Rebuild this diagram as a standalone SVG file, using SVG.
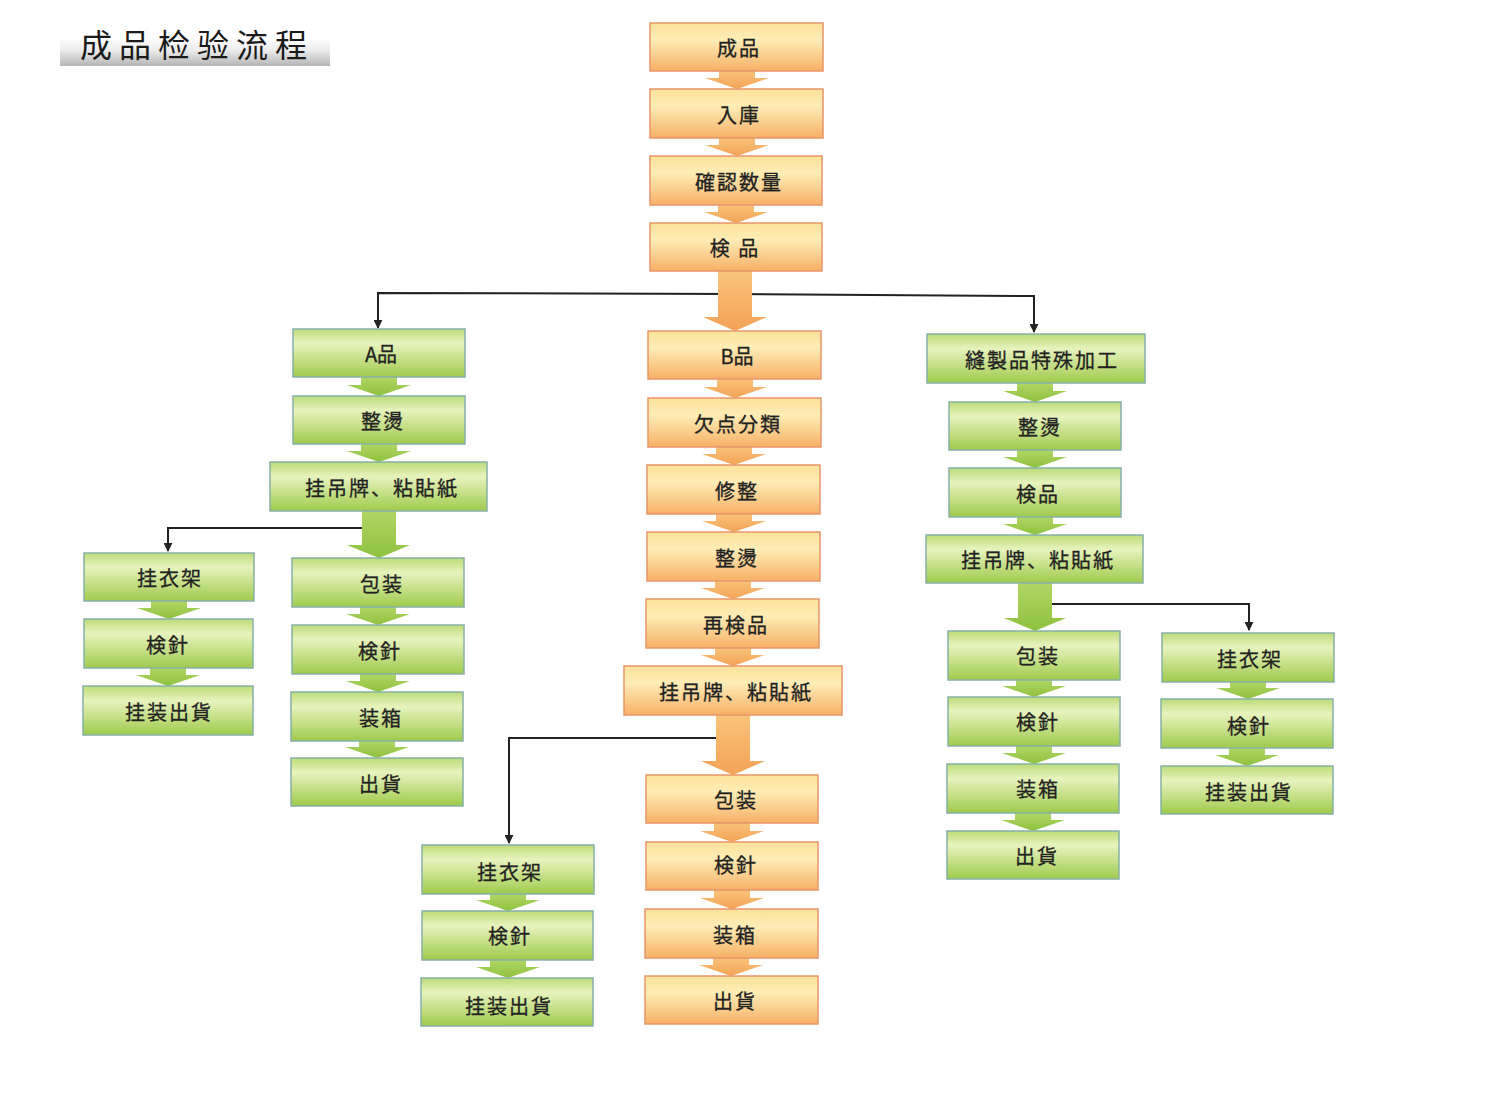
<svg xmlns="http://www.w3.org/2000/svg" width="1500" height="1110" viewBox="0 0 1500 1110">
<defs>
<linearGradient id="gG" x1="0" y1="0" x2="0" y2="1">
<stop offset="0" stop-color="#bcdc78"/>
<stop offset="0.3" stop-color="#e7f3bd"/>
<stop offset="1" stop-color="#9fca4c"/>
</linearGradient>
<linearGradient id="gO" x1="0" y1="0" x2="0" y2="1">
<stop offset="0" stop-color="#fce29a"/>
<stop offset="0.35" stop-color="#feedb6"/>
<stop offset="1" stop-color="#f6b066"/>
</linearGradient>
<linearGradient id="aG" x1="0" y1="0" x2="0" y2="1">
<stop offset="0" stop-color="#b0d664"/>
<stop offset="1" stop-color="#8fc13e"/>
</linearGradient>
<linearGradient id="aO" x1="0" y1="0" x2="0" y2="1">
<stop offset="0" stop-color="#f9c47a"/>
<stop offset="1" stop-color="#f3a256"/>
</linearGradient>
<linearGradient id="bar" x1="0" y1="0" x2="0" y2="1">
<stop offset="0" stop-color="#ffffff"/>
<stop offset="0.45" stop-color="#ebebeb"/>
<stop offset="1" stop-color="#b4b4b4"/>
</linearGradient>
<marker id="ah" viewBox="0 0 10 10" refX="9" refY="5" markerWidth="9" markerHeight="9" markerUnits="userSpaceOnUse" orient="auto">
<path d="M0,0 L10,5 L0,10 Z" fill="#222"/>
</marker>
</defs>
<style>
.g{fill:url(#gG);stroke:#86b0a8;stroke-width:1.5}
.o{fill:url(#gO);stroke:#e8956a;stroke-width:1.5}
.t{font-family:"Noto Sans CJK JP","Noto Sans CJK TC",sans-serif;font-size:20px;fill:#222;stroke:#222;stroke-width:0.3;text-anchor:middle;letter-spacing:2px}
.n{letter-spacing:0}
.ln{fill:none;stroke:#222;stroke-width:2;marker-end:url(#ah)}
.ag{fill:url(#aG)}
.ao{fill:url(#aO)}
.title{font-family:"Noto Sans CJK SC","Noto Sans CJK TC",serif;font-size:32px;fill:#1a1a1a;letter-spacing:7px}
</style>
<rect width="1500" height="1110" fill="#ffffff"/>
<g id="title">
<rect x="60" y="38" width="270" height="28" fill="url(#bar)"/>
<text class="title" x="80" y="57">成品检验流程</text>
</g>
<g id="connectors">
<path class="ln" d="M735,294 L378,293 V328"/>
<path class="ln" d="M735,294 L1034,296 V332"/>
<path class="ln" d="M379,528 H168 V551"/>
<path class="ln" d="M1035,604 H1249 V630"/>
<path class="ln" d="M733,738 H509 V843"/>
<g id="block-arrows">
<path class="ao" d="M719,71 H755 V78 H769 L737,89 L705,78 H719 Z"/>
<path class="ao" d="M719,138 H755 V145 H769 L737,156 L705,145 H719 Z"/>
<path class="ao" d="M718,205 H754 V212 H768 L736,223 L704,212 H718 Z"/>
<path class="ao" d="M718,271 H752 V317 H767 L735,331 L703,317 H718 Z"/>
<path class="ao" d="M717,379 H753 V387 H767 L735,398 L703,387 H717 Z"/>
<path class="ao" d="M716,447 H752 V454 H766 L734,465 L702,454 H716 Z"/>
<path class="ao" d="M716,514 H752 V521 H766 L734,532 L702,521 H716 Z"/>
<path class="ao" d="M715,581 H751 V588 H765 L733,599 L701,588 H715 Z"/>
<path class="ao" d="M715,648 H751 V655 H765 L733,666 L701,655 H715 Z"/>
<path class="ao" d="M716,715 H750 V761 H765 L733,775 L701,761 H716 Z"/>
<path class="ao" d="M714,823 H750 V831 H764 L732,842 L700,831 H714 Z"/>
<path class="ao" d="M714,890 H750 V898 H764 L732,909 L700,898 H714 Z"/>
<path class="ao" d="M713,958 H749 V965 H763 L731,976 L699,965 H713 Z"/>
<path class="ag" d="M361,377 H397 V385 H411 L379,396 L347,385 H361 Z"/>
<path class="ag" d="M361,444 H397 V451 H411 L379,462 L347,451 H361 Z"/>
<path class="ag" d="M362,511 H396 V545 H410 L379,558 L347,545 H362 Z"/>
<path class="ag" d="M360,607 H396 V614 H410 L378,625 L346,614 H360 Z"/>
<path class="ag" d="M360,674 H396 V681 H410 L378,692 L346,681 H360 Z"/>
<path class="ag" d="M359,741 H395 V747 H409 L377,758 L345,747 H359 Z"/>
<path class="ag" d="M151,601 H187 V608 H201 L169,619 L137,608 H151 Z"/>
<path class="ag" d="M150,668 H186 V675 H200 L168,686 L136,675 H150 Z"/>
<path class="ag" d="M1017,383 H1053 V391 H1067 L1035,402 L1003,391 H1017 Z"/>
<path class="ag" d="M1017,450 H1053 V457 H1067 L1035,468 L1003,457 H1017 Z"/>
<path class="ag" d="M1017,517 H1053 V524 H1067 L1035,535 L1003,524 H1017 Z"/>
<path class="ag" d="M1018,583 H1052 V618 H1066 L1035,631 L1004,618 H1018 Z"/>
<path class="ag" d="M1016,680 H1052 V686 H1066 L1034,697 L1002,686 H1016 Z"/>
<path class="ag" d="M1016,746 H1052 V753 H1066 L1034,764 L1002,753 H1016 Z"/>
<path class="ag" d="M1015,813 H1051 V820 H1065 L1033,831 L1001,820 H1015 Z"/>
<path class="ag" d="M1230,682 H1266 V688 H1280 L1248,699 L1216,688 H1230 Z"/>
<path class="ag" d="M1229,748 H1265 V755 H1279 L1247,766 L1215,755 H1229 Z"/>
<path class="ag" d="M490,894 H526 V900 H540 L508,911 L476,900 H490 Z"/>
<path class="ag" d="M490,960 H526 V967 H540 L508,978 L476,967 H490 Z"/>
</g>
</g>
<g id="n-o1"><rect class="o" x="650" y="23" width="173" height="48"/><text class="t" x="739" y="56">成品</text></g>
<g id="n-o2"><rect class="o" x="650" y="89" width="173" height="49"/><text class="t" x="739" y="123">入庫</text></g>
<g id="n-o3"><rect class="o" x="650" y="156" width="172" height="49"/><text class="t" x="739" y="190">確認数量</text></g>
<g id="n-o4"><rect class="o" x="650" y="223" width="172" height="48"/><text class="t" x="735" y="256">検 品</text></g>
<g id="n-o5"><rect class="o" x="648" y="331" width="173" height="48"/><text class="t n" x="737" y="364">B品</text></g>
<g id="n-o6"><rect class="o" x="648" y="398" width="173" height="49"/><text class="t" x="738" y="432">欠点分類</text></g>
<g id="n-o7"><rect class="o" x="647" y="465" width="173" height="49"/><text class="t" x="737" y="499">修整</text></g>
<g id="n-o8"><rect class="o" x="647" y="532" width="173" height="49"/><text class="t" x="737" y="566">整燙</text></g>
<g id="n-o9"><rect class="o" x="646" y="599" width="173" height="49"/><text class="t" x="736" y="633">再検品</text></g>
<g id="n-o10"><rect class="o" x="624" y="666" width="218" height="49"/><text class="t" x="736" y="700">挂吊牌、粘貼紙</text></g>
<g id="n-o11"><rect class="o" x="646" y="775" width="172" height="48"/><text class="t" x="736" y="808">包装</text></g>
<g id="n-o12"><rect class="o" x="646" y="842" width="172" height="48"/><text class="t" x="736" y="873">検針</text></g>
<g id="n-o13"><rect class="o" x="645" y="909" width="173" height="49"/><text class="t" x="735" y="943">装箱</text></g>
<g id="n-o14"><rect class="o" x="645" y="976" width="173" height="48"/><text class="t" x="735" y="1009">出貨</text></g>
<g id="n-a1"><rect class="g" x="293" y="329" width="172" height="48"/><text class="t n" x="381" y="362">A品</text></g>
<g id="n-a2"><rect class="g" x="293" y="396" width="172" height="48"/><text class="t" x="383" y="429">整燙</text></g>
<g id="n-a3"><rect class="g" x="270" y="462" width="217" height="49"/><text class="t" x="382" y="496">挂吊牌、粘貼紙</text></g>
<g id="n-a4"><rect class="g" x="292" y="558" width="172" height="49"/><text class="t" x="382" y="592">包装</text></g>
<g id="n-a5"><rect class="g" x="292" y="625" width="172" height="49"/><text class="t" x="380" y="659">検針</text></g>
<g id="n-a6"><rect class="g" x="291" y="692" width="172" height="49"/><text class="t" x="381" y="726">装箱</text></g>
<g id="n-a7"><rect class="g" x="291" y="758" width="172" height="48"/><text class="t" x="381" y="792">出貨</text></g>
<g id="n-a8"><rect class="g" x="84" y="553" width="170" height="48"/><text class="t" x="170" y="586">挂衣架</text></g>
<g id="n-a9"><rect class="g" x="84" y="619" width="169" height="49"/><text class="t" x="168" y="653">検針</text></g>
<g id="n-a10"><rect class="g" x="83" y="686" width="170" height="49"/><text class="t" x="169" y="720">挂装出貨</text></g>
<g id="n-r1"><rect class="g" x="927" y="334" width="218" height="49"/><text class="t" x="1042" y="368">縫製品特殊加工</text></g>
<g id="n-r2"><rect class="g" x="949" y="402" width="172" height="48"/><text class="t" x="1040" y="435">整燙</text></g>
<g id="n-r3"><rect class="g" x="949" y="468" width="172" height="49"/><text class="t" x="1038" y="502">検品</text></g>
<g id="n-r4"><rect class="g" x="926" y="535" width="217" height="48"/><text class="t" x="1038" y="568">挂吊牌、粘貼紙</text></g>
<g id="n-r5"><rect class="g" x="948" y="631" width="172" height="49"/><text class="t" x="1038" y="664">包装</text></g>
<g id="n-r6"><rect class="g" x="948" y="697" width="172" height="49"/><text class="t" x="1038" y="730">検針</text></g>
<g id="n-r7"><rect class="g" x="947" y="764" width="172" height="49"/><text class="t" x="1038" y="797">装箱</text></g>
<g id="n-r8"><rect class="g" x="947" y="831" width="172" height="48"/><text class="t" x="1037" y="864">出貨</text></g>
<g id="n-r9"><rect class="g" x="1162" y="633" width="172" height="49"/><text class="t" x="1250" y="667">挂衣架</text></g>
<g id="n-r10"><rect class="g" x="1161" y="699" width="172" height="49"/><text class="t" x="1249" y="734">検針</text></g>
<g id="n-r11"><rect class="g" x="1161" y="766" width="172" height="48"/><text class="t" x="1249" y="800">挂装出貨</text></g>
<g id="n-b1"><rect class="g" x="422" y="845" width="172" height="49"/><text class="t" x="510" y="880">挂衣架</text></g>
<g id="n-b2"><rect class="g" x="422" y="911" width="171" height="49"/><text class="t" x="510" y="944">検針</text></g>
<g id="n-b3"><rect class="g" x="421" y="978" width="172" height="48"/><text class="t" x="509" y="1014">挂装出貨</text></g>
</svg>
